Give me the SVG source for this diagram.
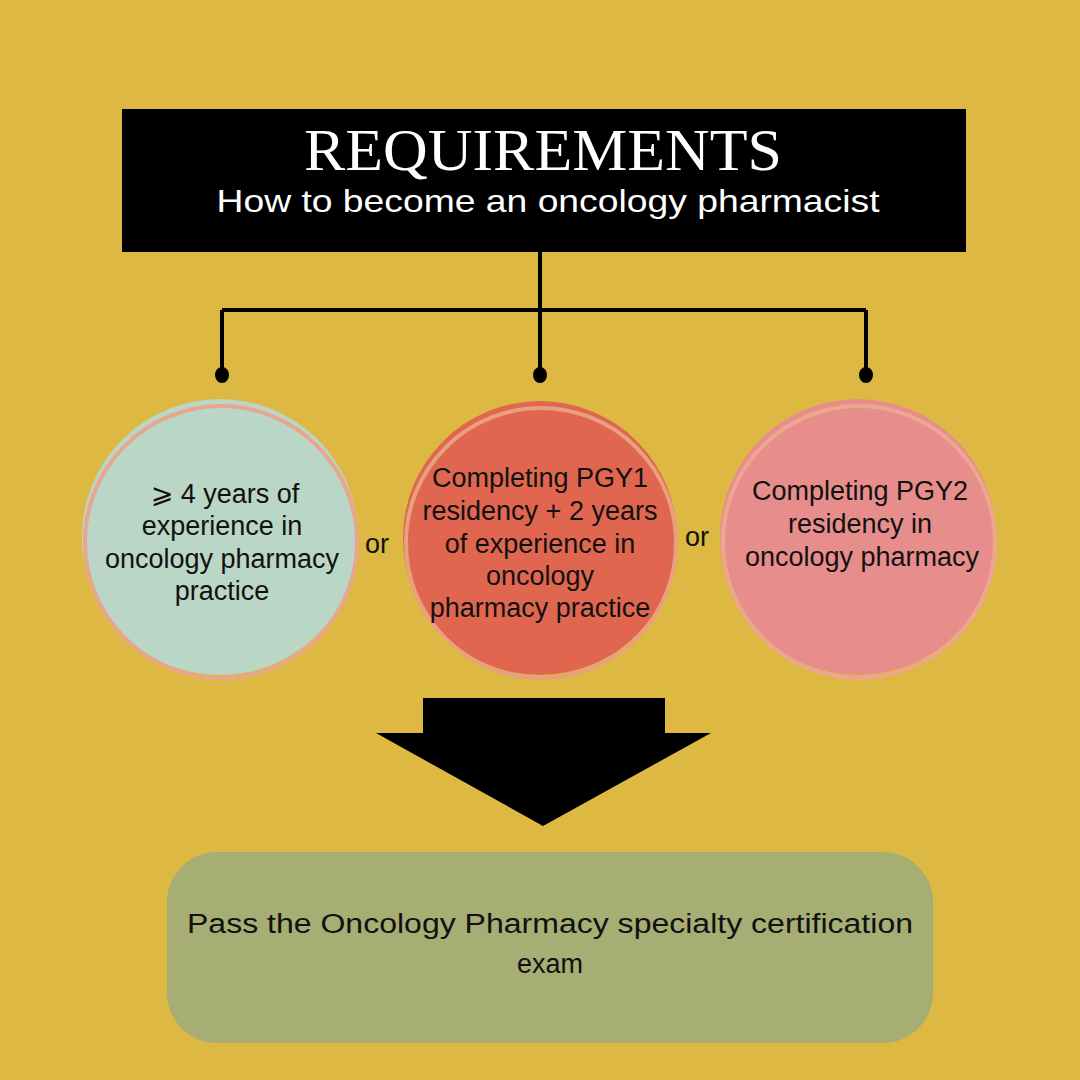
<svg xmlns="http://www.w3.org/2000/svg" width="1080" height="1080" viewBox="0 0 1080 1080">
<style>
.hand{font-family:"Liberation Sans","DejaVu Sans",sans-serif;font-size:27px;fill:#111;text-anchor:middle}
.ring{fill:none;stroke-width:4}
.ln{stroke:#000;stroke-width:4;fill:none}
</style>
<rect width="1080" height="1080" fill="#DDB944"/>
<g id="header">
<rect x="122" y="109" width="844" height="143" fill="#000"/>
<text x="543" y="170" font-family="'Liberation Serif','DejaVu Serif',serif" font-size="60" fill="#fff" text-anchor="middle" textLength="478" lengthAdjust="spacingAndGlyphs">REQUIREMENTS</text>
<text x="548" y="212" font-family="'Liberation Sans','DejaVu Sans',sans-serif" font-size="32" fill="#fff" text-anchor="middle" textLength="663" lengthAdjust="spacingAndGlyphs">How to become an oncology pharmacist</text>
</g>
<g id="connectors">
<path class="ln" d="M540 252 V375 M222 310 H866 M222 310 V375 M866 310 V375"/>
<ellipse cx="222" cy="375" rx="7" ry="8" fill="#000"/>
<ellipse cx="540" cy="375" rx="7" ry="8" fill="#000"/>
<ellipse cx="866" cy="375" rx="7" ry="8" fill="#000"/>
<polygon points="423,698 665,698 665,733 711,733 543,826 376,733 423,733" fill="#000"/>
</g>
<g id="node-left">
<circle cx="220" cy="537" r="138" fill="#B9D6C6"/>
<circle class="ring" cx="221" cy="542" r="136" stroke="#E9A68E"/>
<text class="hand" x="225" y="503"><tspan font-family="'DejaVu Sans',sans-serif">⩾</tspan> 4 years of</text>
<text class="hand" x="222" y="535">experience in</text>
<text class="hand" x="222" y="568">oncology pharmacy</text>
<text class="hand" x="222" y="600">practice</text>
</g>
<text class="hand" x="377" y="553">or</text>
<g id="node-middle">
<circle cx="540" cy="538" r="137" fill="#E0664F"/>
<circle class="ring" cx="541" cy="543" r="135" stroke="#E9A07F"/>
<text class="hand" x="540" y="487">Completing PGY1</text>
<text class="hand" x="540" y="520">residency + 2 years</text>
<text class="hand" x="540" y="553">of experience in</text>
<text class="hand" x="540" y="585">oncology</text>
<text class="hand" x="540" y="617">pharmacy practice</text>
</g>
<text class="hand" x="697" y="546">or</text>
<g id="node-right">
<circle cx="858" cy="537" r="138" fill="#E78E8C"/>
<circle class="ring" cx="859" cy="542" r="136" stroke="#EDA78E"/>
<text class="hand" x="860" y="500">Completing PGY2</text>
<text class="hand" x="860" y="533">residency in</text>
<text class="hand" x="862" y="566">oncology pharmacy</text>
</g>
<g id="node-exam">
<rect x="167" y="852" width="766" height="191" rx="50" fill="#A6AE73"/>
<text class="hand" x="550" y="933" textLength="726" lengthAdjust="spacingAndGlyphs">Pass the Oncology Pharmacy specialty certification</text>
<text class="hand" x="550" y="973">exam</text>
</g>
</svg>
